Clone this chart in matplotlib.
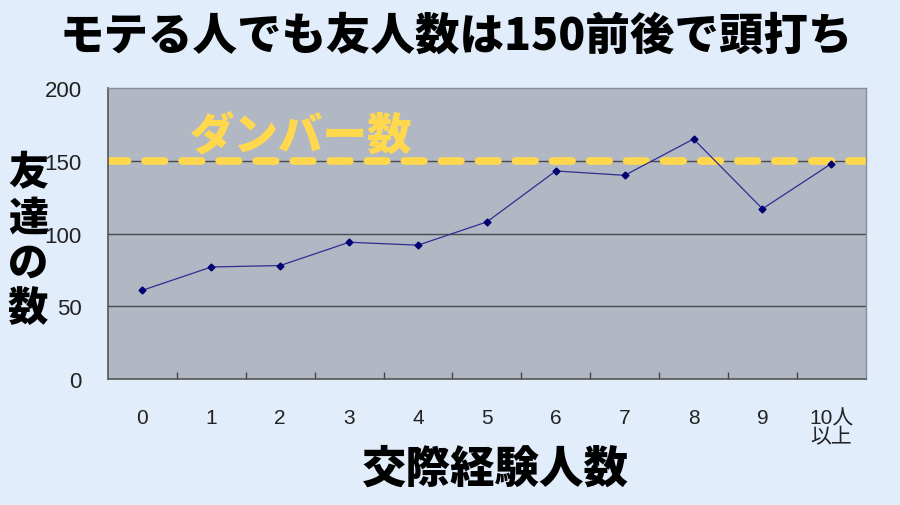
import matplotlib
matplotlib.use('Agg')
import matplotlib.pyplot as plt
import numpy as np

plt.rcParams['font.family'] = ['Noto Sans CJK JP', 'DejaVu Sans']

# データ
categories = ['0', '1', '2', '3', '4', '5', '6', '7', '8', '9', '10人\n以上']
friends = [61, 77, 78, 94, 92, 108, 143, 140, 165, 117, 148]
dunbar = 150
yticks = [0, 50, 100, 150, 200]

bg = '#E1EDFB'
fig = plt.figure(figsize=(9, 5.06), dpi=100, facecolor=bg)
ax = fig.add_axes([0.12, 0.249, 0.842, 0.575])
ax.set_facecolor('#B2B7C4')

x = np.arange(len(categories))

# 横の目盛り線
for v in yticks[1:-1]:
    ax.axhline(v, color='#4a4a4a', lw=1.0, zorder=1)

# ダンバー数の線
ax.axhline(dunbar, color='#FFD84D', lw=5.5, linestyle=(0, (2.55, 2.3)),
           dash_capstyle='round', zorder=2)

ax.plot(x, friends, color='#2e2e92', lw=0.9, marker='D', markersize=3.5,
        markerfacecolor='#000070', markeredgecolor='#000070', zorder=3)

ax.set_xlim(-0.5, len(categories) - 0.5)
ax.set_ylim(0, 200)

tick_font = ['Liberation Sans', 'Noto Sans CJK JP']
ax.set_yticks(yticks)
ax.set_yticklabels([str(v) for v in yticks], family=tick_font,
                   fontsize=16, color='#222222')
ax.tick_params(axis='y', length=0, pad=19)

ax.set_xticks(x)
ax.set_xticklabels(categories, family=tick_font,
                   fontsize=15, color='#222222', linespacing=1.0)
ax.tick_params(axis='x', which='major', length=0, pad=21)
ax.set_xticks(np.arange(0.5, len(categories) - 0.5, 1.0), minor=True)
ax.tick_params(axis='x', which='minor', direction='in', length=5, width=1, color='#444444')

for s in ['left', 'bottom']:
    ax.spines[s].set_color('#555555')
    ax.spines[s].set_linewidth(1.2)
for s in ['top', 'right']:
    ax.spines[s].set_color('#8a8e99')
    ax.spines[s].set_linewidth(1.0)

ax.text(2.3, 168, 'ダンバー数', color='#FFD84D', fontsize=32, fontweight='black',
        ha='center', va='center', zorder=4)

fig.text(456 / 900, 1 - 36 / 506, 'モテる人でも友人数は150前後で頭打ち', ha='center', va='center',
         fontsize=32, fontweight='black', color='black')
fig.text(28 / 900, 1 - 241 / 506, '友\n達\nの\n数', ha='center', va='center',
         fontsize=29, fontweight='black', color='black', linespacing=1.1)
fig.text(495 / 900, 1 - 469 / 506, '交際経験人数', ha='center', va='center',
         fontsize=32, fontweight='black', color='black')

fig.savefig('out.png', dpi=100, facecolor=bg)
